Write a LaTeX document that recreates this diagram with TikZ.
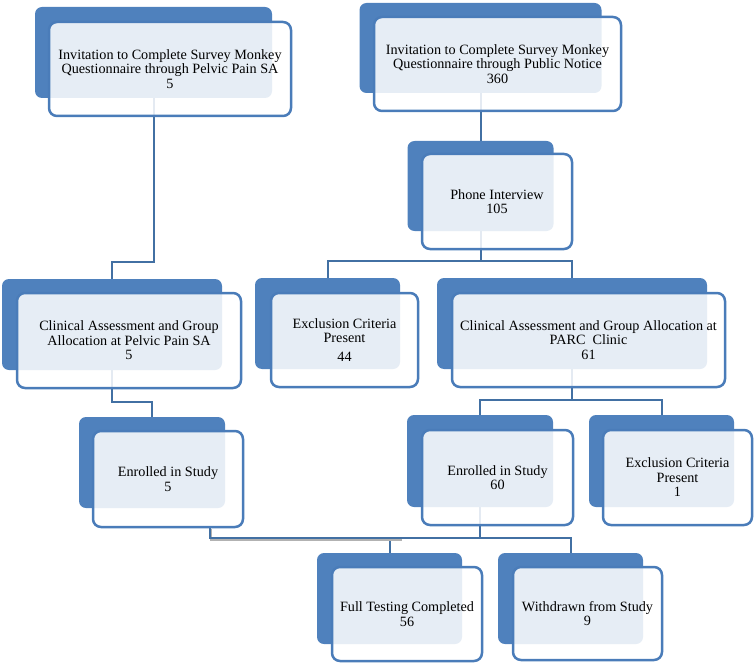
\documentclass[tikz,border=0pt]{standalone}
\usepackage{fontspec}
\setmainfont{Liberation Serif}
\usepackage{tikz}
\usetikzlibrary{positioning}

\definecolor{backblue}{RGB}{79,129,189}
\definecolor{boxblue}{RGB}{74,124,185}
\definecolor{lineblue}{RGB}{66,112,163}

\pgfdeclarelayer{lines}
\pgfsetlayers{lines,main}

\tikzset{
  backbox/.style={fill=backblue,rounded corners=7pt,inner sep=0,outer sep=0},
  frontbox/.style={draw=boxblue,line width=2.5pt,fill=white,fill opacity=0.86,text opacity=1,
    rounded corners=8pt,align=center,inner sep=0,outer sep=0,
    font=\fontsize{14.2}{14.5}\selectfont},
  conn/.style={draw=lineblue,line width=2pt}
}

\begin{document}
\begin{tikzpicture}[x=1pt,y=-1pt]
\useasboundingbox (0,0) rectangle (754,663);

\node[backbox,minimum width=237pt,minimum height=91pt] (inv1b) at (153.5,52.5) {};
\node[frontbox,minimum width=242pt,minimum height=94pt] (inv1) at (170,69) {Invitation to Complete Survey Monkey\\Questionnaire through Pelvic Pain SA\\5};

\node[backbox,minimum width=242pt,minimum height=90pt] (inv2b) at (480.5,48) {};
\node[frontbox,minimum width=247pt,minimum height=94pt] (inv2) at (497.5,64) {Invitation to Complete Survey Monkey\\Questionnaire through Public Notice\\360};

\node[backbox,minimum width=146pt,minimum height=90pt] (phoneb) at (480.5,186) {};
\node[frontbox,minimum width=150pt,minimum height=95pt] (phone) at (497,201.5) {Phone Interview\\105};

\node[backbox,minimum width=220pt,minimum height=91pt] (clin1b) at (112,324.5) {};
\node[frontbox,minimum width=224pt,minimum height=95pt] (clin1) at (129,340.5) {Clinical Assessment and Group\\Allocation at Pelvic Pain SA\\5};

\node[backbox,minimum width=145pt,minimum height=91pt] (excl1b) at (327.5,323.5) {};
\node[frontbox,minimum width=147pt,minimum height=94pt] (excl1) at (344.5,340) {Exclusion Criteria\\Present\\[4pt]44};

\node[backbox,minimum width=270pt,minimum height=91pt] (parcb) at (572,323.5) {};
\node[frontbox,minimum width=273pt,minimum height=94pt] (parc) at (588.5,340) {Clinical Assessment and Group Allocation at\\PARC~~Clinic\\61};

\node[backbox,minimum width=146pt,minimum height=91pt] (enr1b) at (152,462.5) {};
\node[frontbox,minimum width=150pt,minimum height=96pt] (enr1) at (168,479) {Enrolled in Study\\5};

\node[backbox,minimum width=146pt,minimum height=92pt] (enr2b) at (480,461) {};
\node[frontbox,minimum width=151pt,minimum height=95pt] (enr2) at (497.5,477.5) {Enrolled in Study\\60};

\node[backbox,minimum width=145pt,minimum height=92pt] (excl2b) at (661.5,461) {};
\node[frontbox,minimum width=149pt,minimum height=95pt] (excl2) at (677.5,477.5) {Exclusion Criteria\\Present\\1};

\node[backbox,minimum width=145pt,minimum height=91pt] (fullb) at (389.5,598.5) {};
\node[frontbox,minimum width=150pt,minimum height=94pt] (full) at (407,614) {Full Testing Completed\\56};

\node[backbox,minimum width=145pt,minimum height=91pt] (withb) at (570.5,598.5) {};
\node[frontbox,minimum width=149pt,minimum height=93pt] (with) at (587.5,613.5) {Withdrawn from Study\\9};

\begin{pgfonlayer}{lines}
\draw[conn] (inv1b.center) |- ([shift={(0,-17)}]clin1b.north) -- (clin1b.north);
\draw[conn] (inv2b.center) -- (phoneb.north);
\draw[conn] (phoneb.center) |- ([shift={(0,-17)}]excl1b.north) -- (excl1b.north);
\draw[conn] (phoneb.center) |- ([shift={(0,-17)}]parcb.north) -- (parcb.north);
\draw[conn] (clin1b.center) |- ([shift={(0,-15)}]enr1b.north) -- (enr1b.north);
\draw[conn] (parcb.center) |- ([shift={(0,-15)}]enr2b.north) -- (enr2b.north);
\draw[conn] (parcb.center) |- ([shift={(0,-15)}]excl2b.north) -- (excl2b.north);
\draw[conn] (enr2b.center) |- ([shift={(0,-15)}]fullb.north) -- (fullb.north);
\draw[conn] (enr2b.center) |- ([shift={(0,-15)}]withb.north) -- (withb.north);
\draw[conn,preaction={draw=black!30,line width=2pt,transform canvas={shift={(1pt,-2pt)}}}]
  ([shift={(42,0)}]enr1.south) |- ([shift={(11,-15)}]fullb.north);
\end{pgfonlayer}

\end{tikzpicture}
\end{document}
